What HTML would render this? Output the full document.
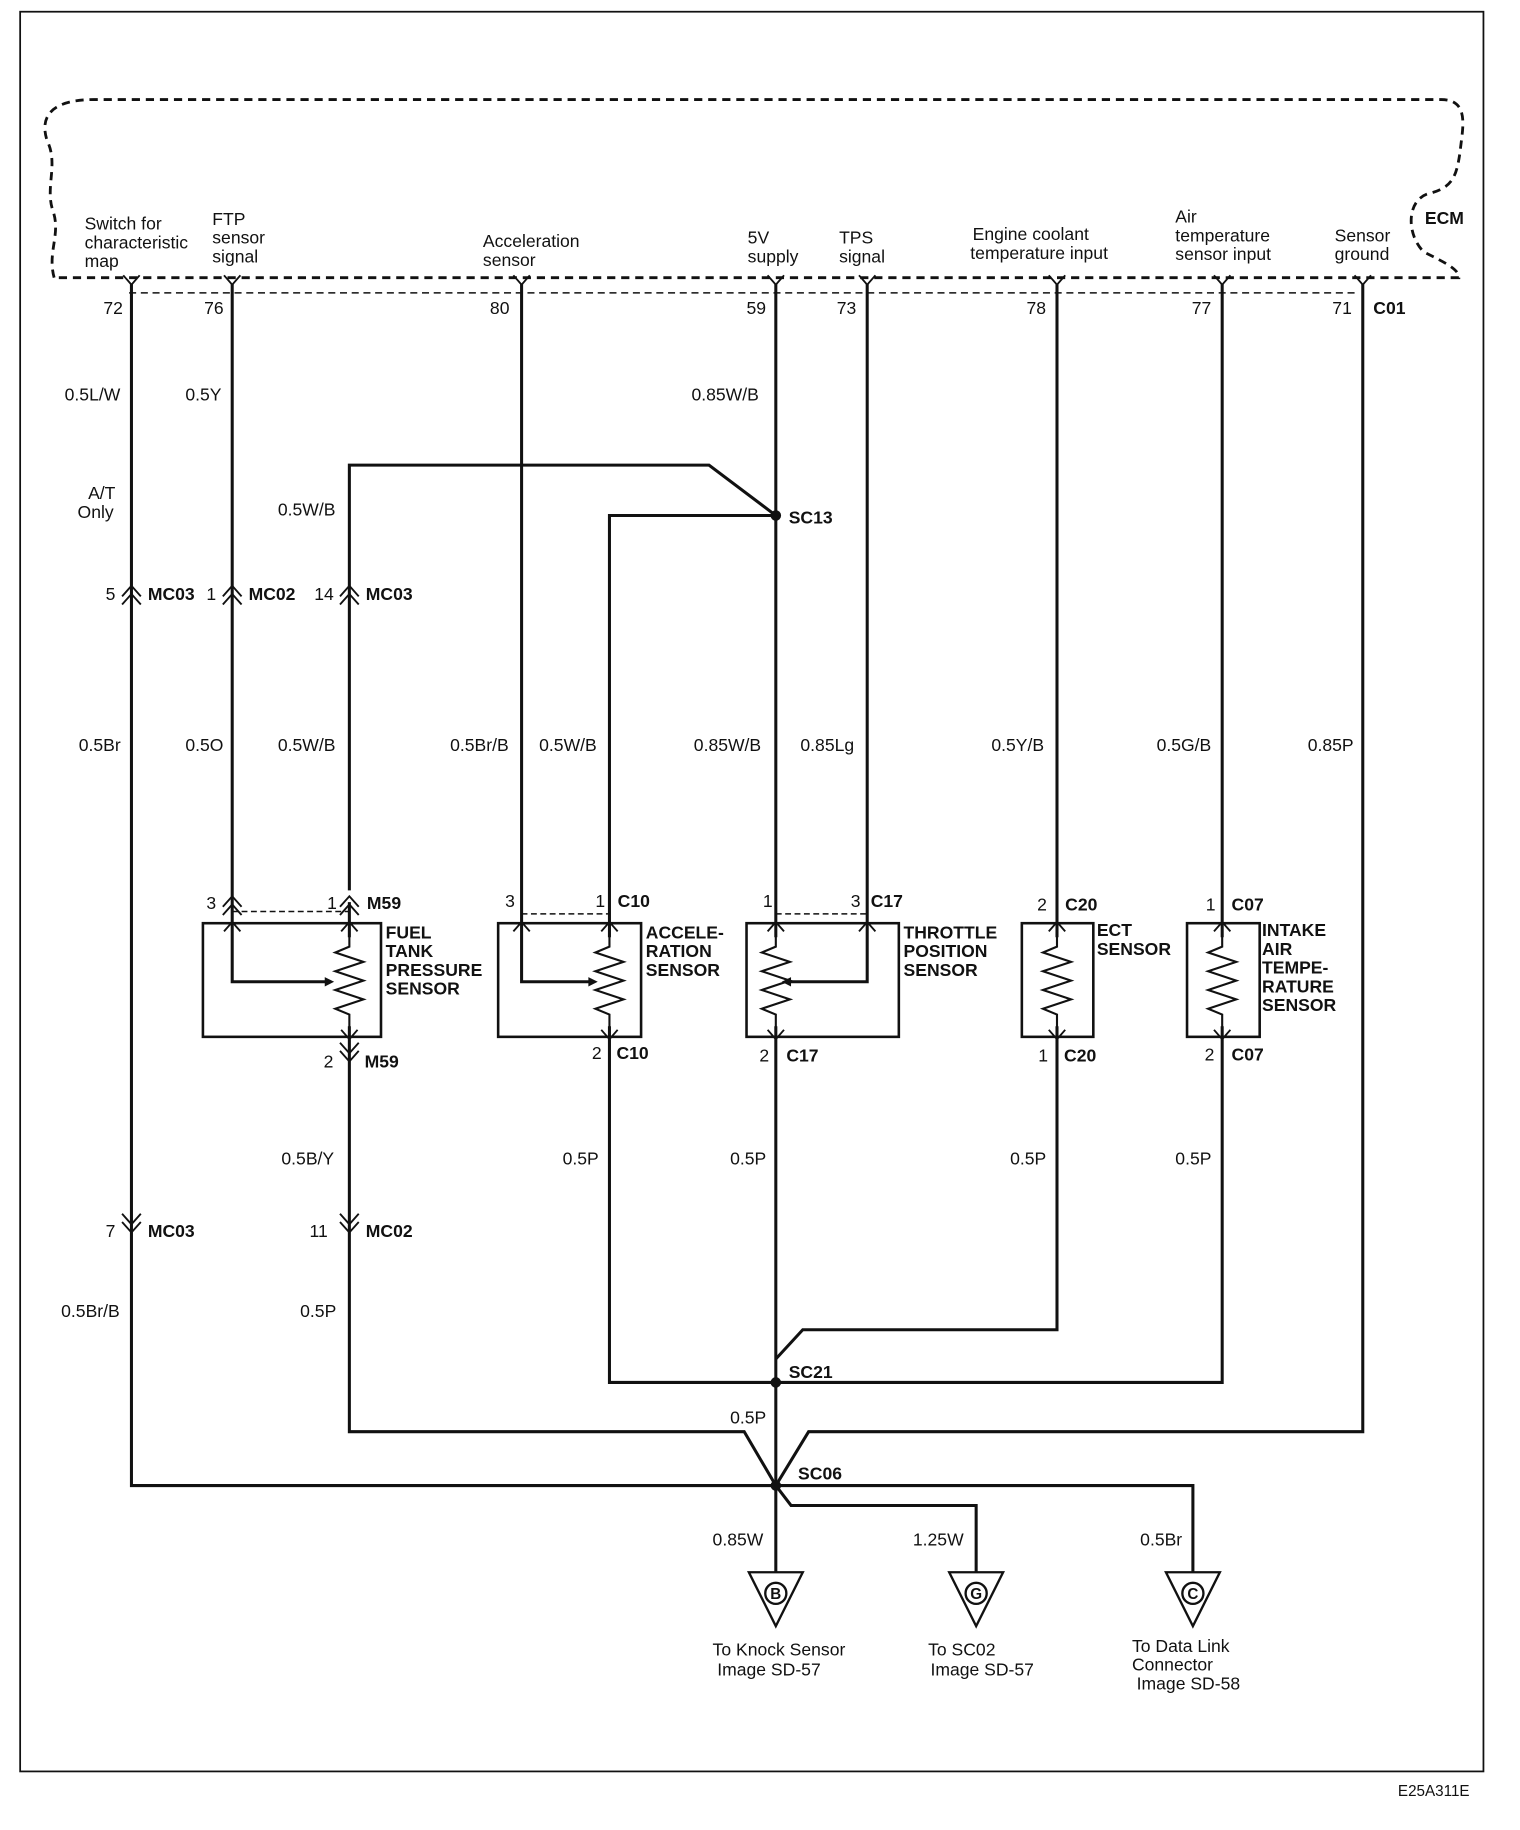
<!DOCTYPE html>
<html><head><meta charset="utf-8"><style>
html,body{margin:0;padding:0;background:#fff;}
svg{display:block;}
text{font-family:"Liberation Sans",Arial,sans-serif;font-size:15px;fill:#111;}
.b{font-weight:bold;}
</style></head><body>
<svg width="1520" height="1830" viewBox="0 0 1297 1562" xmlns="http://www.w3.org/2000/svg">
<defs>
<g id="u2" fill="none" stroke="#111" stroke-width="1.6"><path d="M-8,6 L0,-3 L8,6 M-8,13 L0,4 L8,13"/></g>
<g id="d2" fill="none" stroke="#111" stroke-width="1.6"><path d="M-8,-6 L0,3 L8,-6 M-8,-13 L0,-4 L8,-13"/></g>
<g id="u1" fill="none" stroke="#111" stroke-width="1.6"><path d="M-7,7 L0,-1 L7,7"/></g>
<g id="d1" fill="none" stroke="#111" stroke-width="1.6"><path d="M-7,-7 L0,1 L7,-7"/></g>
<g id="r" fill="none" stroke="#111" stroke-width="1.8"><path d="M0,-40 L0,-30 L-12,-25 L12,-17 L-12,-9 L12,-1 L-12,7 L12,15 L-12,23 L0,28 L0,40"/></g>
</defs>
<rect x="0" y="0" width="1297" height="1562" fill="#fff"/>
<rect x="17" y="10" width="1249" height="1502" fill="none" stroke="#111" stroke-width="1.5"/>
<text x="1193" y="1533" style="font-size:13px">E25A311E</text>

<path d="M46,237 C40,215 52,200 45,180 C38,160 50,140 40,120 C32,95 50,85 80,85 L1230,85 C1255,85 1248,110 1246,130 C1243,150 1240,160 1220,165 C1200,170 1200,200 1215,215 C1235,225 1245,230 1245,237 Z" fill="none" stroke="#111" stroke-width="2.4" stroke-dasharray="7,5"/>
<line x1="110" y1="250" x2="1160" y2="250" stroke="#111" stroke-width="1.3" stroke-dasharray="6,4"/>
<text x="1216" y="191" class="b">ECM</text>

<g stroke="#111" stroke-width="2.6" fill="none">
<path d="M112,242 V1268 H662"/>
<path d="M198,242 V838 H280"/>
<path d="M445,242 V838 H505"/>
<path d="M662,242 V1342"/>
<path d="M740,242 V838 H672"/>
<path d="M902,242 V1135 H685 L662,1160"/>
<path d="M1043,242 V1180 H662"/>
<path d="M1163,242 V1222 H690 L662,1268"/>
<path d="M298,770 V1222 H635 L662,1268"/>
<path d="M298,760 V397 H605 L662,440"/>
<path d="M662,440 H520 V1180 H662"/>
<path d="M662,1268 L675,1285 H833 V1342"/>
<path d="M662,1268 H1018 V1342"/>
</g>
<g fill="#111">
<circle cx="662" cy="440" r="4.5"/><circle cx="662" cy="1180" r="4.5"/><circle cx="662" cy="1268" r="4.5"/>
</g>
<g fill="#111">
<path d="M285,838 l-8,-4 v8z"/><path d="M510,838 l-8,-4 v8z"/><path d="M667,838 l8,-4 v8z"/>
</g>

<g>
<use href="#d1" x="112" y="242"/><use href="#d1" x="198" y="242"/><use href="#d1" x="445" y="242"/><use href="#d1" x="662" y="242"/>
<use href="#d1" x="740" y="242"/><use href="#d1" x="902" y="242"/><use href="#d1" x="1043" y="242"/><use href="#d1" x="1163" y="242"/>
</g>
<text x="88" y="268">72</text><text x="174" y="268">76</text><text x="418" y="268">80</text><text x="637" y="268">59</text>
<text x="714" y="268">73</text><text x="876" y="268">78</text><text x="1017" y="268">77</text><text x="1137" y="268">71</text>
<text x="1172" y="268" class="b">C01</text>

<text x="72" y="196">Switch for</text><text x="72" y="212">characteristic</text><text x="72" y="228">map</text>
<text x="181" y="192">FTP</text><text x="181" y="208">sensor</text><text x="181" y="224">signal</text>
<text x="412" y="211">Acceleration</text><text x="412" y="227">sensor</text>
<text x="638" y="208">5V</text><text x="638" y="224">supply</text>
<text x="716" y="208">TPS</text><text x="716" y="224">signal</text>
<text x="830" y="205">Engine coolant</text><text x="828" y="221">temperature input</text>
<text x="1003" y="190">Air</text><text x="1003" y="206">temperature</text><text x="1003" y="222">sensor input</text>
<text x="1139" y="206">Sensor</text><text x="1139" y="222">ground</text>

<text x="55" y="342">0.5L/W</text><text x="158" y="342">0.5Y</text><text x="590" y="342">0.85W/B</text>
<text x="75" y="426">A/T</text><text x="66" y="442">Only</text>
<text x="237" y="440">0.5W/B</text>
<text x="673" y="447" class="b">SC13</text>

<use href="#u2" x="112" y="503"/><use href="#u2" x="198" y="503"/><use href="#u2" x="298" y="503"/>
<text x="90" y="512">5</text><text x="126" y="512" class="b">MC03</text>
<text x="176" y="512">1</text><text x="212" y="512" class="b">MC02</text>
<text x="268" y="512">14</text><text x="312" y="512" class="b">MC03</text>

<text x="67" y="641">0.5Br</text><text x="158" y="641">0.5O</text><text x="237" y="641">0.5W/B</text>
<text x="384" y="641">0.5Br/B</text><text x="460" y="641">0.5W/B</text><text x="592" y="641">0.85W/B</text>
<text x="683" y="641">0.85Lg</text><text x="846" y="641">0.5Y/B</text><text x="987" y="641">0.5G/B</text><text x="1116" y="641">0.85P</text>

<g stroke="#111" stroke-width="1.3" stroke-dasharray="5,3" fill="none">
<path d="M198,778 H298"/><path d="M445,780 H520"/><path d="M662,780 H740"/>
</g>
<use href="#u2" x="198" y="768"/><use href="#u2" x="298" y="768"/>
<text x="176" y="776">3</text><text x="279" y="776">1</text><text x="313" y="776" class="b">M59</text>
<text x="431" y="774">3</text><text x="508" y="774">1</text><text x="527" y="774" class="b">C10</text>
<text x="651" y="774">1</text><text x="726" y="774">3</text><text x="743" y="774" class="b">C17</text>
<text x="885" y="777">2</text><text x="909" y="777" class="b">C20</text>
<text x="1029" y="777">1</text><text x="1051" y="777" class="b">C07</text>

<g fill="none" stroke="#111" stroke-width="2.2">
<rect x="173" y="788" width="152" height="97"/>
<rect x="425" y="788" width="122" height="97"/>
<rect x="637" y="788" width="130" height="97"/>
<rect x="872" y="788" width="61" height="97"/>
<rect x="1013" y="788" width="62" height="97"/>
</g>
<g stroke="#fff" stroke-width="4"><line x1="298" y1="800" x2="298" y2="876"/><line x1="520" y1="800" x2="520" y2="876"/><line x1="662" y1="800" x2="662" y2="876"/><line x1="902" y1="800" x2="902" y2="876"/><line x1="1043" y1="800" x2="1043" y2="876"/></g>
<use href="#r" x="298" y="838"/><use href="#r" x="520" y="838"/><use href="#r" x="662" y="838"/><use href="#r" x="902" y="838"/><use href="#r" x="1043" y="838"/>
<g>
<use href="#u1" x="198" y="788"/><use href="#u1" x="298" y="788"/><use href="#u1" x="445" y="788"/><use href="#u1" x="520" y="788"/>
<use href="#u1" x="662" y="788"/><use href="#u1" x="740" y="788"/><use href="#u1" x="902" y="788"/><use href="#u1" x="1043" y="788"/>
<use href="#d1" x="298" y="886"/><use href="#d1" x="520" y="886"/><use href="#d1" x="662" y="886"/><use href="#d1" x="902" y="886"/><use href="#d1" x="1043" y="886"/>
</g>
<text x="329" y="801" class="b">FUEL</text><text x="329" y="817" class="b">TANK</text><text x="329" y="833" class="b">PRESSURE</text><text x="329" y="849" class="b">SENSOR</text>
<text x="551" y="801" class="b">ACCELE-</text><text x="551" y="817" class="b">RATION</text><text x="551" y="833" class="b">SENSOR</text>
<text x="771" y="801" class="b">THROTTLE</text><text x="771" y="817" class="b">POSITION</text><text x="771" y="833" class="b">SENSOR</text>
<text x="936" y="799" class="b">ECT</text><text x="936" y="815" class="b">SENSOR</text>
<text x="1077" y="799" class="b">INTAKE</text><text x="1077" y="815" class="b">AIR</text><text x="1077" y="831" class="b">TEMPE-</text><text x="1077" y="847" class="b">RATURE</text><text x="1077" y="863" class="b">SENSOR</text>

<use href="#d2" x="298" y="903"/>
<text x="276" y="911">2</text><text x="311" y="911" class="b">M59</text>
<text x="505" y="904">2</text><text x="526" y="904" class="b">C10</text>
<text x="648" y="906">2</text><text x="671" y="906" class="b">C17</text>
<text x="886" y="906">1</text><text x="908" y="906" class="b">C20</text>
<text x="1028" y="905">2</text><text x="1051" y="905" class="b">C07</text>

<text x="240" y="994">0.5B/Y</text><text x="480" y="994">0.5P</text><text x="623" y="994">0.5P</text>
<text x="862" y="994">0.5P</text><text x="1003" y="994">0.5P</text>

<use href="#d2" x="112" y="1049"/><use href="#d2" x="298" y="1049"/>
<text x="90" y="1056">7</text><text x="126" y="1056" class="b">MC03</text>
<text x="264" y="1056">11</text><text x="312" y="1056" class="b">MC02</text>
<text x="52" y="1124">0.5Br/B</text><text x="256" y="1124">0.5P</text>
<text x="673" y="1176" class="b">SC21</text>
<text x="623" y="1215">0.5P</text>
<text x="681" y="1263" class="b">SC06</text>
<text x="608" y="1319">0.85W</text><text x="779" y="1319">1.25W</text><text x="973" y="1319">0.5Br</text>

<g fill="#fff" stroke="#111" stroke-width="2">
<path d="M639,1342 H685 L662,1388 Z"/><path d="M810,1342 H856 L833,1388 Z"/><path d="M995,1342 H1041 L1018,1388 Z"/>
<circle cx="662" cy="1360" r="9"/><circle cx="833" cy="1360" r="9"/><circle cx="1018" cy="1360" r="9"/>
</g>
<text x="662" y="1365" text-anchor="middle" class="b" style="font-size:13px">B</text>
<text x="833" y="1365" text-anchor="middle" class="b" style="font-size:13px">G</text>
<text x="1018" y="1365" text-anchor="middle" class="b" style="font-size:13px">C</text>

<text x="608" y="1413">To Knock Sensor</text><text x="612" y="1430">Image   SD-57</text>
<text x="792" y="1413">To SC02</text><text x="794" y="1430">Image    SD-57</text>
<text x="966" y="1410">To Data Link</text><text x="966" y="1426">Connector</text><text x="970" y="1442">Image   SD-58</text>
</svg>
</body></html>
